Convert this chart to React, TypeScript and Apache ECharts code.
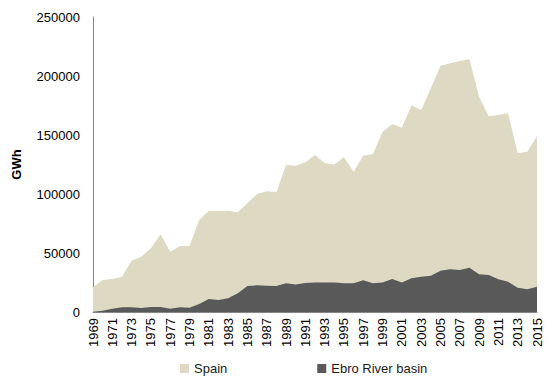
import React, { useEffect, useRef } from "react";
import * as echarts from "echarts";

const years: string[] = [];
for (let y = 1969; y <= 2015; y++) years.push(String(y));

const spain = [
  20900, 27100, 28000, 29900, 43500, 46900, 54000, 65800, 51100, 55900,
  56000, 78000, 85600, 85600, 85900, 84500, 92100, 100000, 102300, 101500,
  124600, 124000, 127000, 133000, 126300, 125100, 131100, 118900, 132400, 134000,
  152500, 159300, 156200, 175200, 171200, 189600, 208600, 210700, 212800, 214100,
  182500, 165800, 167000, 168400, 134500, 135900, 149200,
];

const ebro = [
  300, 1100, 2800, 4000, 4000, 3400, 4200, 4200, 2800, 4000,
  3600, 6800, 11000, 10200, 11600, 15800, 22000, 22600, 22300, 22000,
  24300, 23400, 24600, 24900, 24900, 24900, 24300, 24300, 26900, 24300,
  25100, 28000, 25100, 28500, 29900, 30800, 35000, 36200, 35600, 37500,
  31900, 31400, 27700, 25700, 20600, 19200, 21400,
];

const FONT = "'Liberation Sans', Arial, sans-serif";

export default function App() {
  const ref = useRef<HTMLDivElement>(null);
  useEffect(() => {
    if (!ref.current) return;
    const chart = echarts.init(ref.current, undefined, { renderer: "svg" });
    chart.setOption({
      animation: false,
      textStyle: { fontFamily: FONT },
      grid: { left: 93, right: 13, top: 17, bottom: 71, containLabel: false },
      legend: {
        top: 362,
        left: 180,
        padding: 0,
        itemGap: 90,
        itemWidth: 9,
        itemHeight: 9,
        icon: "rect",
        textStyle: { fontFamily: FONT, fontSize: 13, color: "#1a1a1a" },
        data: ["Spain", "Ebro River basin"],
      },
      xAxis: {
        type: "category",
        data: years,
        boundaryGap: false,
        axisLine: { show: true, lineStyle: { color: "#868686" } },
        axisTick: { show: false },
        axisLabel: {
          interval: 1,
          rotate: 90,
          fontSize: 13,
          color: "#000000",
          fontFamily: FONT,
          margin: 6,
        },
      },
      yAxis: {
        type: "value",
        min: 0,
        max: 250000,
        interval: 50000,
        name: "GWh",
        nameLocation: "middle",
        nameRotate: 90,
        nameGap: 70,
        nameTextStyle: { fontSize: 13, fontWeight: "bold", color: "#000000", fontFamily: FONT },
        splitLine: { show: false },
        axisLine: { show: true, lineStyle: { color: "#868686" } },
        axisTick: { show: false },
        axisLabel: {
          fontSize: 13,
          color: "#000000",
          fontFamily: FONT,
          margin: 13,
          formatter: (v: number) => String(v),
        },
      },
      series: [
        {
          name: "Spain",
          type: "line",
          data: spain,
          symbol: "none",
          lineStyle: { width: 0 },
          itemStyle: { color: "#DDD9C3" },
          areaStyle: { color: "#DDD9C3", opacity: 1 },
          z: 1,
        },
        {
          name: "Ebro River basin",
          type: "line",
          data: ebro,
          symbol: "none",
          lineStyle: { width: 0 },
          itemStyle: { color: "#595959" },
          areaStyle: { color: "#595959", opacity: 1 },
          z: 2,
        },
      ],
    });
    return () => chart.dispose();
  }, []);
  return (
    <div
      ref={ref}
      style={{ position: "absolute", left: 0, top: 0, width: 550, height: 383 }}
    />
  );
}
